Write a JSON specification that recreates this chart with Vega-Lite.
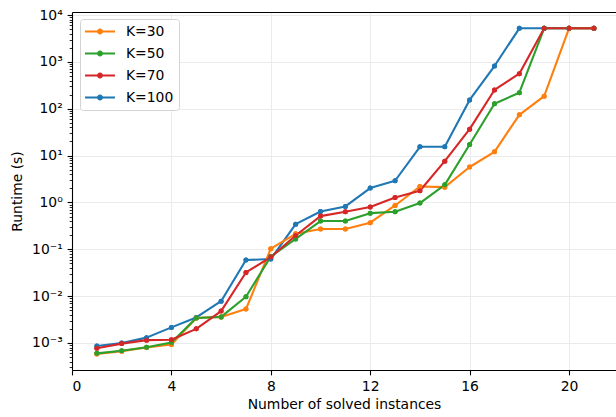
{
  "$schema": "https://vega.github.io/schema/vega-lite/v6.json",
  "autosize": {"type": "none"},
  "padding": {"left": 72, "top": 12, "right": 0, "bottom": 47},
  "width": 544,
  "height": 358,
  "config": {
    "view": {"stroke": null},
    "font": "DejaVu Sans",
    "axis": {
      "domainColor": "#000000",
      "domainWidth": 1.1,
      "tickColor": "#000000",
      "tickWidth": 1.1,
      "tickSize": 4.9,
      "labelFont": "DejaVu Sans",
      "labelFontSize": 13.9,
      "labelColor": "#000000",
      "labelPadding": 4.9,
      "titleFont": "DejaVu Sans",
      "titleFontSize": 13.9,
      "titleFontWeight": "normal",
      "titleColor": "#000000",
      "gridColor": "#ebebeb",
      "gridWidth": 1
    },
    "legend": {
      "orient": "none",
      "legendX": 8,
      "legendY": 7,
      "labelFont": "DejaVu Sans",
      "labelFontSize": 13.9,
      "labelColor": "#000000",
      "padding": 5,
      "rowPadding": 7,
      "strokeColor": "#d3d3d3",
      "fillColor": "#ffffff",
      "cornerRadius": 3,
      "labelOffset": 26,
      "symbolType": "M-1,-0.14H3V0.14H-1Z M1.4,0A0.4,0.4,0,1,1,0.6,0A0.4,0.4,0,1,1,1.4,0Z",
      "symbolSize": 225,
      "symbolStrokeWidth": 0,
      "symbolOpacity": 1
    }
  },
  "data": {
    "values": [
      {"n": 1, "K": "K=100", "t": 0.00086},
      {"n": 2, "K": "K=100", "t": 0.0010},
      {"n": 3, "K": "K=100", "t": 0.0013},
      {"n": 4, "K": "K=100", "t": 0.00215},
      {"n": 5, "K": "K=100", "t": 0.0035},
      {"n": 6, "K": "K=100", "t": 0.0078},
      {"n": 7, "K": "K=100", "t": 0.059},
      {"n": 8, "K": "K=100", "t": 0.062},
      {"n": 9, "K": "K=100", "t": 0.344},
      {"n": 10, "K": "K=100", "t": 0.64},
      {"n": 11, "K": "K=100", "t": 0.82},
      {"n": 12, "K": "K=100", "t": 2.02},
      {"n": 13, "K": "K=100", "t": 2.9},
      {"n": 14, "K": "K=100", "t": 15.4},
      {"n": 15, "K": "K=100", "t": 15.4},
      {"n": 16, "K": "K=100", "t": 154},
      {"n": 17, "K": "K=100", "t": 815},
      {"n": 18, "K": "K=100", "t": 5200},
      {"n": 19, "K": "K=100", "t": 5200},
      {"n": 20, "K": "K=100", "t": 5200},
      {"n": 21, "K": "K=100", "t": 5200},
      {"n": 1, "K": "K=30", "t": 0.00058},
      {"n": 2, "K": "K=30", "t": 0.00067},
      {"n": 3, "K": "K=30", "t": 0.00080},
      {"n": 4, "K": "K=30", "t": 0.00093},
      {"n": 5, "K": "K=30", "t": 0.0034},
      {"n": 6, "K": "K=30", "t": 0.0036},
      {"n": 7, "K": "K=30", "t": 0.0053},
      {"n": 8, "K": "K=30", "t": 0.103},
      {"n": 9, "K": "K=30", "t": 0.214},
      {"n": 10, "K": "K=30", "t": 0.27},
      {"n": 11, "K": "K=30", "t": 0.27},
      {"n": 12, "K": "K=30", "t": 0.37},
      {"n": 13, "K": "K=30", "t": 0.86},
      {"n": 14, "K": "K=30", "t": 2.19},
      {"n": 15, "K": "K=30", "t": 2.12},
      {"n": 16, "K": "K=30", "t": 5.7},
      {"n": 17, "K": "K=30", "t": 12.0},
      {"n": 18, "K": "K=30", "t": 74},
      {"n": 19, "K": "K=30", "t": 185},
      {"n": 20, "K": "K=30", "t": 5200},
      {"n": 21, "K": "K=30", "t": 5200},
      {"n": 1, "K": "K=50", "t": 0.00060},
      {"n": 2, "K": "K=50", "t": 0.00068},
      {"n": 3, "K": "K=50", "t": 0.00081},
      {"n": 4, "K": "K=50", "t": 0.00102},
      {"n": 5, "K": "K=50", "t": 0.0034},
      {"n": 6, "K": "K=50", "t": 0.0036},
      {"n": 7, "K": "K=50", "t": 0.0097},
      {"n": 8, "K": "K=50", "t": 0.070},
      {"n": 9, "K": "K=50", "t": 0.166},
      {"n": 10, "K": "K=50", "t": 0.40},
      {"n": 11, "K": "K=50", "t": 0.40},
      {"n": 12, "K": "K=50", "t": 0.59},
      {"n": 13, "K": "K=50", "t": 0.63},
      {"n": 14, "K": "K=50", "t": 0.97},
      {"n": 15, "K": "K=50", "t": 2.37},
      {"n": 16, "K": "K=50", "t": 17.2},
      {"n": 17, "K": "K=50", "t": 128},
      {"n": 18, "K": "K=50", "t": 220},
      {"n": 19, "K": "K=50", "t": 5200},
      {"n": 20, "K": "K=50", "t": 5200},
      {"n": 21, "K": "K=50", "t": 5200},
      {"n": 1, "K": "K=70", "t": 0.00077},
      {"n": 2, "K": "K=70", "t": 0.00097},
      {"n": 3, "K": "K=70", "t": 0.00115},
      {"n": 4, "K": "K=70", "t": 0.00117},
      {"n": 5, "K": "K=70", "t": 0.0020},
      {"n": 6, "K": "K=70", "t": 0.0048},
      {"n": 7, "K": "K=70", "t": 0.032},
      {"n": 8, "K": "K=70", "t": 0.068},
      {"n": 9, "K": "K=70", "t": 0.197},
      {"n": 10, "K": "K=70", "t": 0.51},
      {"n": 11, "K": "K=70", "t": 0.63},
      {"n": 12, "K": "K=70", "t": 0.80},
      {"n": 13, "K": "K=70", "t": 1.27},
      {"n": 14, "K": "K=70", "t": 1.77},
      {"n": 15, "K": "K=70", "t": 7.6},
      {"n": 16, "K": "K=70", "t": 36.6},
      {"n": 17, "K": "K=70", "t": 251},
      {"n": 18, "K": "K=70", "t": 560},
      {"n": 19, "K": "K=70", "t": 5200},
      {"n": 20, "K": "K=70", "t": 5200},
      {"n": 21, "K": "K=70", "t": 5200}
    ]
  },
  "resolve": {"axis": {"x": "independent"}},
  "layer": [
    {
      "mark": {"type": "point", "filled": true, "size": 25, "opacity": 1},
      "encoding": {
        "x": {
          "field": "n", "type": "quantitative",
          "scale": {"domain": [0, 21.89], "nice": false, "zero": false},
          "axis": {
            "orient": "bottom",
            "title": "Number of solved instances",
            "titlePadding": 4,
            "values": [0, 4, 8, 12, 16, 20],
            "format": "d",
            "grid": true
          }
        },
        "y": {
          "field": "t", "type": "quantitative",
          "scale": {"type": "log", "domain": [0.000265, 11590], "nice": false},
          "axis": {
            "title": "Runtime (s)",
            "titlePadding": 7,
            "grid": true,
            "values": [0.0003, 0.0004, 0.0005, 0.0006, 0.0007, 0.0008, 0.0009, 0.001, 0.002, 0.003, 0.004, 0.005, 0.006, 0.007, 0.008, 0.009, 0.01, 0.02, 0.03, 0.04, 0.05, 0.06, 0.07, 0.08, 0.09, 0.1, 0.2, 0.3, 0.4, 0.5, 0.6, 0.7, 0.8, 0.9, 1, 2, 3, 4, 5, 6, 7, 8, 9, 10, 20, 30, 40, 50, 60, 70, 80, 90, 100, 200, 300, 400, 500, 600, 700, 800, 900, 1000, 2000, 3000, 4000, 5000, 6000, 7000, 8000, 9000, 10000],
            "tickSize": {"condition": {"test": "abs(log(datum.value)/LN10 - round(log(datum.value)/LN10)) < 0.001", "value": 4.9}, "value": 2.8},
            "tickWidth": {"condition": {"test": "abs(log(datum.value)/LN10 - round(log(datum.value)/LN10)) < 0.001", "value": 1.1}, "value": 0.85},
            "gridOpacity": {"condition": {"test": "abs(log(datum.value)/LN10 - round(log(datum.value)/LN10)) < 0.001", "value": 1}, "value": 0},
            "labelExpr": "abs(log(datum.value)/LN10 - round(log(datum.value)/LN10)) < 0.001 ? '10' + (round(log(datum.value)/LN10) < 0 ? '⁻' : '') + substring('⁰¹²³⁴⁵⁶⁷⁸⁹', abs(round(log(datum.value)/LN10)), abs(round(log(datum.value)/LN10)) + 1) : ''"
          }
        },
        "color": {
          "field": "K", "type": "nominal",
          "scale": {"domain": ["K=30", "K=50", "K=70", "K=100"], "range": ["#ff7f0e", "#2ca02c", "#d62728", "#1f77b4"]},
          "legend": {"title": null}
        }
      }
    },
    {
      "mark": {"type": "line", "strokeWidth": 2.1, "strokeJoin": "round"},
      "encoding": {
        "x": {"field": "n", "type": "quantitative", "axis": null},
        "y": {"field": "t", "type": "quantitative"},
        "color": {"field": "K", "type": "nominal", "legend": {"title": null}}
      }
    },
    {
      "mark": {"type": "point", "filled": true, "size": 25, "opacity": 1},
      "encoding": {
        "x": {"field": "n", "type": "quantitative", "axis": null},
        "y": {"field": "t", "type": "quantitative"},
        "color": {"field": "K", "type": "nominal", "legend": {"title": null}}
      }
    },
    {
      "mark": {"type": "point", "opacity": 0},
      "encoding": {
        "x": {
          "field": "n", "type": "quantitative",
          "axis": {"orient": "top", "labels": false, "ticks": false, "grid": false, "domain": true, "title": null}
        },
        "y": {"field": "t", "type": "quantitative"}
      }
    }
  ]
}
